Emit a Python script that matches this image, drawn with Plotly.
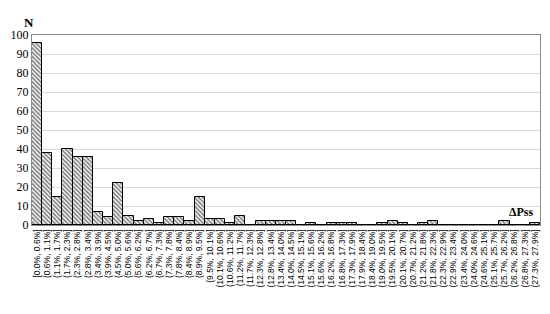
import plotly.graph_objects as go

edges = ["0.0", "0.6", "1.1", "1.7", "2.3", "2.8", "3.4", "3.9", "4.5", "5.0",
         "5.6", "6.2", "6.7", "7.3", "7.8", "8.4", "8.9", "9.5", "10.1", "10.6",
         "11.2", "11.7", "12.3", "12.8", "13.4", "14.0", "14.5", "15.1", "15.6", "16.2",
         "16.8", "17.3", "17.9", "18.4", "19.0", "19.5", "20.1", "20.7", "21.2", "21.8",
         "22.3", "22.9", "23.4", "24.0", "24.6", "25.1", "25.7", "26.2", "26.8", "27.3", "27.9"]

categories = [("[" if i == 0 else "(") + f"{edges[i]}%, {edges[i+1]}%]" for i in range(len(edges) - 1)]

counts = [96, 38, 15, 40, 36, 36, 7, 4, 22, 5,
          2, 3, 1, 4, 4, 2, 15, 3, 3, 1,
          5, 0, 2, 2, 2, 2, 0, 1, 0, 1,
          1, 1, 0, 0, 1, 2, 1, 0, 1, 2,
          0, 0, 0, 0, 0, 0, 2, 0, 0, 1]

y_ticks = list(range(0, 101, 10))

fig = go.Figure()
fig.add_trace(go.Bar(
    x=categories, y=counts,
    marker=dict(color="white",
                line=dict(color="black", width=1),
                pattern=dict(shape="\\", fgcolor="black", bgcolor="white", size=3, solidity=0.55)),
))

fig.update_layout(
    width=542, height=306,
    margin=dict(l=24, r=10, t=27, b=89),
    paper_bgcolor="white", plot_bgcolor="white",
    bargap=0, showlegend=False,
    xaxis=dict(type="category", tickangle=-90, tickmode="array",
               tickvals=categories, ticktext=categories, automargin=False,
               tickfont=dict(family="Liberation Sans", size=8.5, color="black"),
               showline=True, linecolor="#8c8c8c", linewidth=1, mirror=True,
               ticks="", showgrid=False),
    yaxis=dict(range=[0, 100], tickvals=y_ticks, automargin=False,
               tickfont=dict(family="Liberation Serif", size=12, color="black"),
               showline=True, linecolor="#8c8c8c", linewidth=1, mirror=True,
               gridcolor="#d9d9d9", gridwidth=1, ticks="", zeroline=False),
    annotations=[
        dict(text="<b>N</b>", xref="paper", yref="paper", x=-3/508, y=1+13/190,
             showarrow=False, font=dict(family="Liberation Serif", size=13, color="black"),
             xanchor="center", yanchor="middle"),
        dict(text="<b>ΔPss</b>", xref="paper", yref="paper", x=1 - 4/508, y=13/190,
             showarrow=False, font=dict(family="Liberation Serif", size=12, color="black"),
             xanchor="right", yanchor="middle"),
    ],
)

fig.write_html("out.html")
